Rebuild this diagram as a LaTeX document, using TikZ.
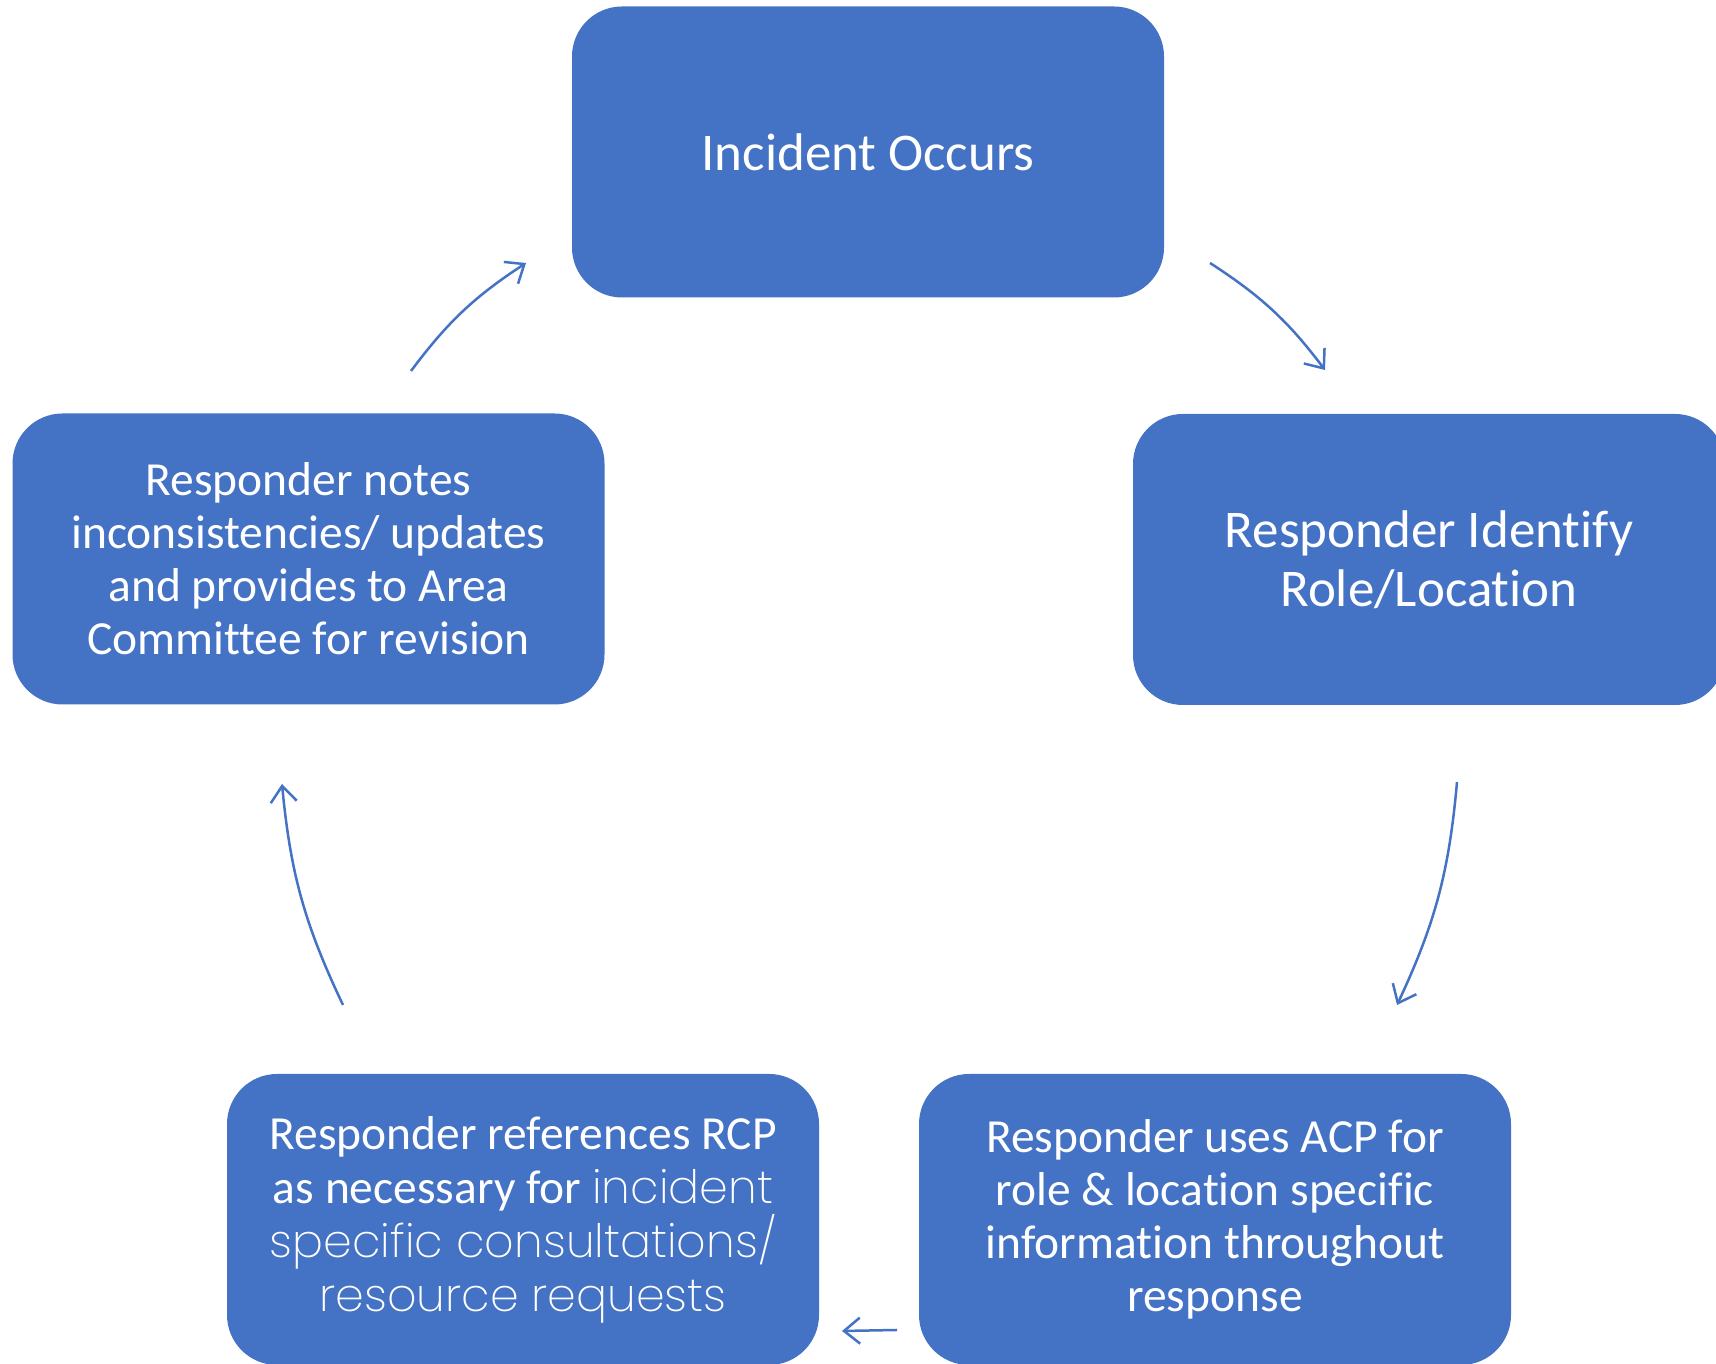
\documentclass[tikz,border=0pt]{standalone}
\usepackage{fontspec}
\setmainfont{Carlito}[RawFeature={-liga,-clig,-calt,-dlig}]
\newfontfamily\lightfont{Poppins ExtraLight}[RawFeature={-liga,-clig}]
\usetikzlibrary{arrows.meta}
\definecolor{stageblue}{HTML}{4472C4}
\begin{document}
\begin{tikzpicture}[x=1pt,y=1pt,
  stage/.style={fill=stageblue, draw=none, rounded corners=50pt,
    minimum width=592pt, minimum height=291pt, inner sep=0pt,
    text=white, align=center},
  bigtext/.style={font=\fontsize{53}{59}\selectfont},
  smalltext/.style={font=\fontsize{47.5}{53}\selectfont},
  flow/.style={draw=stageblue, line width=2.5pt,
    -{Straight Barb[length=16pt,width=26pt,line width=2.5pt]}},
  lighttext/.style={font=\fontsize{47.5}{54}\selectfont}
]
\useasboundingbox (0,0) rectangle (1716,1364);

% the five stages of the cycle
\node[stage,bigtext] (occurs) at (868,1212) {Incident Occurs};
\node[stage,bigtext] (identify) at (1429,804.5) {Responder Identify\\Role/Location};
\node[stage,smalltext] (acp) at (1215,144.5)
  {Responder uses ACP for\\role \& location specific\\information throughout\\response};
\node[stage,lighttext] (rcp) at (523,144.5)
  {Responder references RCP\\as necessary for {\lightfont\fontsize{46}{54}\selectfont incident}\\
   {\lightfont\fontsize{46}{54}\selectfont specific consultations/}\\
   {\lightfont\fontsize{46}{54}\selectfont resource requests}};
\node[stage,smalltext] (notes) at (308.5,805)
  {Responder notes\\inconsistencies/ updates\\and provides to Area\\Committee for revision};

% arrow end points between the stages
\coordinate (n2o) at (411,993);
\coordinate (o2n) at (526,1101);
\coordinate (o2i) at (1210,1101);
\coordinate (i2o) at (1325,994);
\coordinate (i2a) at (1457,582);
\coordinate (a2i) at (1397,359);
\coordinate (a2r) at (897,34);
\coordinate (r2a) at (842,33);
\coordinate (r2n) at (343,359);
\coordinate (n2r) at (282,580);

\draw[flow] (n2o) to[bend left=10] (o2n);
\draw[flow] (o2i) to[bend left=10] (i2o);
\draw[flow] (i2a) to[bend left=10] (a2i);
\draw[flow] (a2r) -- (r2a);
\draw[flow] (r2n) to[bend left=10] (n2r);
\end{tikzpicture}
\end{document}
